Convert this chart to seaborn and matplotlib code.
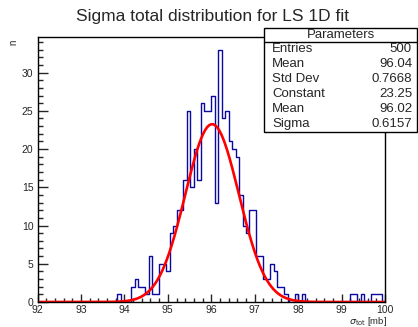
import numpy as np
import pandas as pd
import seaborn as sns
import matplotlib.pyplot as plt
from matplotlib.patches import Rectangle
from matplotlib.lines import Line2D
from matplotlib.ticker import MultipleLocator

# histogram: 100 bins from 92 to 100 mb
x_min, x_max, n_bins = 92.0, 100.0, 100
counts = [0] * 23 + [
    1, 0, 0, 0, 2, 3, 2, 2, 1, 6,        # bins 23-32
    1, 1, 5, 5, 4, 9, 10, 12, 12, 16,    # bins 33-42
    25, 15, 20, 16, 26, 25, 25, 27, 13, 33,  # bins 43-52
    24, 25, 21, 20, 19, 14, 10, 9, 12, 12,   # bins 53-62
    6, 6, 3, 3, 5, 4, 2, 2, 1, 0,        # bins 63-72
    0, 1, 0, 1,                          # bins 73-76
] + [0] * 13 + [1, 1, 0, 1, 0, 0, 1, 1, 1, 0]

# gaussian fit result and stats box
fit_const, fit_mean, fit_sigma = 23.25, 96.02, 0.6157
stat_names = ["Entries", "Mean", "Std Dev", "Constant", "Mean", "Sigma"]
stat_values = ["500", "96.04", "0.7668", "23.25", "96.02", "0.6157"]

bw = (x_max - x_min) / n_bins
centers = x_min + bw * (np.arange(n_bins) + 0.5)
df = pd.DataFrame({"sigma": centers, "n": np.array(counts, dtype=float)})

xf = np.linspace(x_min, x_max, 600)
fit_df = pd.DataFrame({"x": xf, "y": fit_const * np.exp(-0.5 * ((xf - fit_mean) / fit_sigma) ** 2)})

sns.set_style("ticks")
plt.rcParams["font.family"] = ["Liberation Sans", "DejaVu Sans"]

fig = plt.figure(figsize=(4.18, 3.27), dpi=100)
ax = fig.add_axes([37.5 / 418, 25 / 327, 347.5 / 418, 265 / 327])

sns.histplot(data=df, x="sigma", weights="n", binwidth=bw, binrange=(x_min, x_max),
             element="step", fill=False, color="#0a0aa0", linewidth=1.0, ax=ax)
sns.lineplot(data=fit_df, x="x", y="y", color="red", linewidth=1.9, ax=ax)

ax.set_xlim(x_min, x_max)
ax.set_ylim(0, max(counts) * 1.05)
ax.xaxis.set_major_locator(MultipleLocator(1))
ax.xaxis.set_minor_locator(MultipleLocator(0.2))
ax.yaxis.set_major_locator(MultipleLocator(5))
ax.yaxis.set_minor_locator(MultipleLocator(1))
ax.tick_params(axis="x", which="major", direction="in", length=6, width=1, labelsize=7.5, pad=2.5)
ax.tick_params(axis="x", which="minor", direction="in", length=3, width=1)
ax.tick_params(axis="y", which="major", direction="in", length=7.5, width=1, labelsize=7.5, pad=3)
ax.tick_params(axis="y", which="minor", direction="in", length=3.6, width=1)
for s in ax.spines.values():
    s.set_color("black")
    s.set_linewidth(1)

ax.set_xlabel("")
ax.set_ylabel("")
fig.text(387 / 418, 1 - 322 / 327, r"$\sigma_{\mathrm{tot}}$ [mb]", ha="right", va="center", fontsize=6.8)
fig.text(13 / 418, 1 - 42 / 327, "n", rotation=90, ha="center", va="center", fontsize=7)
fig.text(212 / 418, 1 - 17 / 327, "Sigma total distribution for LS 1D fit",
         ha="center", va="center", fontsize=12.5)

# stats box
bx0, bx1, by0, by1 = 264 / 418, 417 / 418, 1 - 132 / 327, 1 - 27.5 / 327
fig.patches.append(Rectangle((bx0, by0), bx1 - bx0, by1 - by0, transform=fig.transFigure,
                             facecolor="white", edgecolor="black", linewidth=1, zorder=5))
head_h = 14.3 / 327
row_h = (by1 - head_h - by0) / 6
fig.lines.append(Line2D([bx0, bx1], [by1 - head_h, by1 - head_h], transform=fig.transFigure,
                        color="black", linewidth=1, zorder=6))
fig.text((bx0 + bx1) / 2, by1 - head_h / 2, "Parameters", ha="center", va="center",
         fontsize=9.5, zorder=7)
for i, (name, val) in enumerate(zip(stat_names, stat_values)):
    yc = by1 - head_h - row_h * (i + 0.5)
    fig.text(272 / 418, yc, name, ha="left", va="center", fontsize=9.5, zorder=7)
    fig.text(412 / 418, yc, val, ha="right", va="center", fontsize=9.5, zorder=7)

fig.savefig("out.png", dpi=100)
